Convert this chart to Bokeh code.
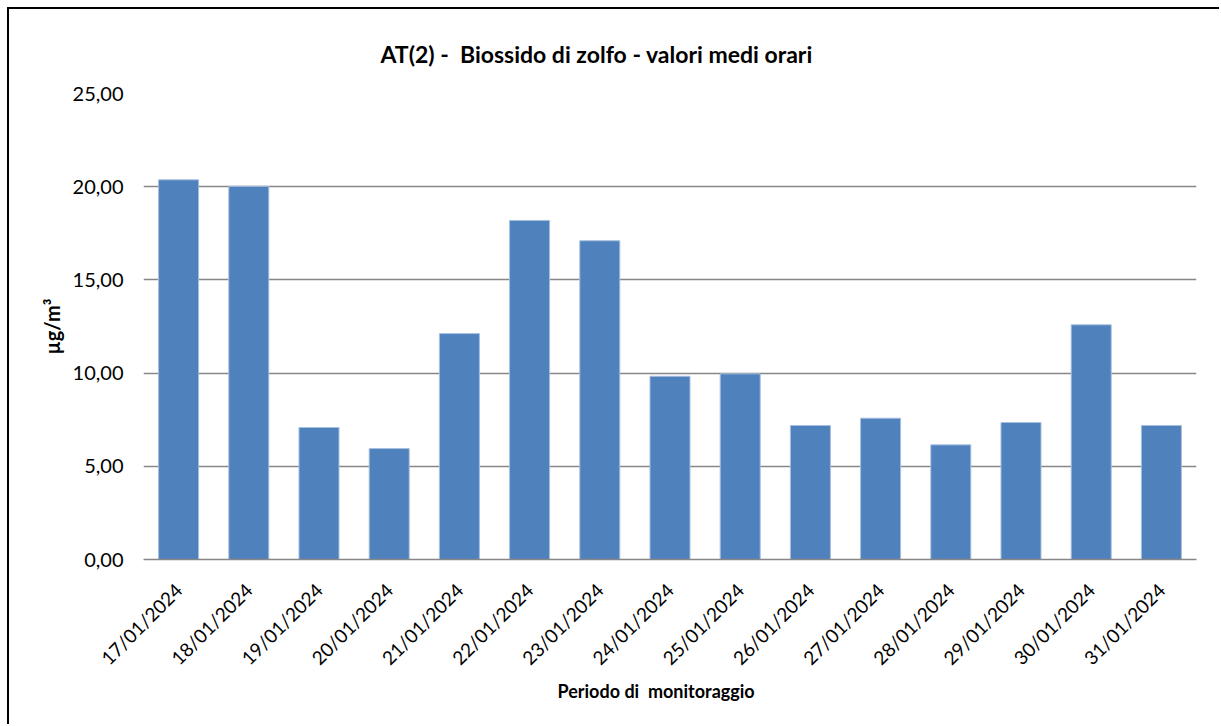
from math import pi
from bokeh.plotting import figure
from bokeh.models import FactorRange, Range1d, FixedTicker, Title
from bokeh.embed import file_html
from bokeh.resources import INLINE

dates = ["17/01/2024", "18/01/2024", "19/01/2024", "20/01/2024", "21/01/2024",
         "22/01/2024", "23/01/2024", "24/01/2024", "25/01/2024", "26/01/2024",
         "27/01/2024", "28/01/2024", "29/01/2024", "30/01/2024", "31/01/2024"]
so2 = [20.37, 20.02, 7.08, 5.95, 12.12, 18.19, 17.10, 9.83, 9.96, 7.19,
       7.58, 6.15, 7.35, 12.59, 7.19]
y_ticks = [0, 5, 10, 15, 20, 25]
y_tick_labels = ["0,00", "5,00", "10,00", "15,00", "20,00", "25,00"]

FONT = "Lato"

p = figure(x_range=FactorRange(*dates), y_range=Range1d(0, 25),
           width=1212, height=717, output_backend="svg", toolbar_location=None,
           min_border_left=134, min_border_right=25, min_border_top=84,
           min_border_bottom=167)
p.styles = {"border-top": "2px solid black", "border-left": "2px solid black",
            "margin-top": "7px", "margin-left": "7px"}

p.vbar(x=dates, top=so2, width=0.57, fill_color="#4F81BD",
       line_color="#A7BFDF", line_width=1)

p.title = Title(text="AT(2) -\u00a0 Biossido di zolfo - valori medi orari",
                align="left", text_font=FONT, text_font_size="23px",
                text_font_style="bold", text_color="black", offset=237,
                standoff=51)

p.outline_line_color = None
p.background_fill_color = "white"
p.border_fill_color = "white"

p.xgrid.grid_line_color = None
p.ygrid.grid_line_color = "#878787"
p.ygrid.grid_line_width = 1.5

p.yaxis.ticker = FixedTicker(ticks=y_ticks)
p.yaxis.major_label_overrides = {t: l for t, l in zip(y_ticks, y_tick_labels)}
p.yaxis.axis_line_color = None
p.yaxis.major_tick_line_color = None
p.yaxis.minor_tick_line_color = None
p.yaxis.major_tick_out = 0
p.yaxis.major_tick_in = 0
p.yaxis.minor_tick_out = 0
p.yaxis.major_label_standoff = 20
p.yaxis.major_label_text_font = FONT
p.yaxis.major_label_text_font_size = "20px"
p.yaxis.major_label_text_color = "black"
p.yaxis.axis_label = "µg/m³"
p.yaxis.axis_label_text_font = FONT
p.yaxis.axis_label_text_font_size = "20px"
p.yaxis.axis_label_text_font_style = "bold"
p.yaxis.axis_label_text_color = "black"
p.yaxis.axis_label_standoff = 6

p.xaxis.axis_line_color = "#878787"
p.xaxis.axis_line_width = 1.5
p.xaxis.major_tick_line_color = None
p.xaxis.minor_tick_line_color = None
p.xaxis.major_tick_out = 0
p.xaxis.major_tick_in = 0
p.xaxis.minor_tick_out = 0
p.xaxis.major_label_orientation = pi / 4
p.xaxis.major_label_standoff = 27
p.xaxis.major_label_text_font = FONT
p.xaxis.major_label_text_font_size = "19px"
p.xaxis.major_label_text_color = "black"

p.add_layout(Title(text="Periodo di\u00a0 monitoraggio", align="left",
                   text_font=FONT, text_font_size="18px",
                   text_font_style="bold", text_color="black",
                   offset=414, standoff=-5), "below")

open("out.html", "w").write(file_html(p, INLINE))
